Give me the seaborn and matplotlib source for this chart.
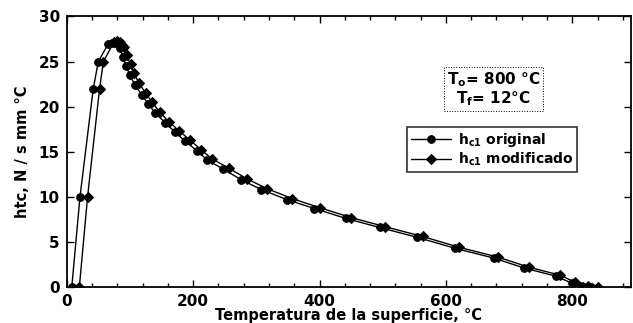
import numpy as np
import pandas as pd
import matplotlib
matplotlib.use("Agg")
import matplotlib.pyplot as plt
from matplotlib.ticker import MultipleLocator
import seaborn as sns

# Data
temp_original = [8, 21, 42, 50, 66, 72, 78, 84, 89, 94, 100, 108, 119, 129, 140, 156,
                 171, 187, 206, 222, 247, 276, 308, 348, 392, 442, 495, 555, 614, 676,
                 724, 774, 800, 815, 830]
htc_original = [0, 10, 22, 25, 27, 27.1, 27.1, 26.5, 25.5, 24.5, 23.5, 22.4, 21.3, 20.3,
                19.3, 18.2, 17.2, 16.2, 15.1, 14.1, 13.1, 11.9, 10.8, 9.7, 8.7, 7.6,
                6.6, 5.5, 4.3, 3.2, 2.1, 1.2, 0.4, 0.1, 0]
temp_modificado = [20, 33, 52, 58, 75, 80, 85, 90, 95, 101, 107, 114, 125, 135, 147, 162,
                   178, 195, 213, 230, 256, 285, 317, 357, 400, 450, 503, 563, 621, 683,
                   731, 781, 805, 825, 840]
htc_modificado = [0, 10, 22, 25, 27.2, 27.3, 27.2, 26.6, 25.7, 24.7, 23.7, 22.6, 21.5,
                  20.5, 19.4, 18.3, 17.3, 16.3, 15.2, 14.2, 13.2, 12.0, 10.9, 9.8, 8.8,
                  7.7, 6.7, 5.6, 4.4, 3.3, 2.2, 1.3, 0.5, 0.1, 0]
series_labels = [r"h$_{c1}$ original", r"h$_{c1}$ modificado"]

df = pd.concat([
    pd.DataFrame({"T": temp_original, "htc": htc_original, "serie": series_labels[0]}),
    pd.DataFrame({"T": temp_modificado, "htc": htc_modificado, "serie": series_labels[1]}),
], ignore_index=True)

sns.set_style("ticks")
plt.rcParams["font.family"] = ["DejaVu Sans"]
plt.rcParams["font.weight"] = "bold"
plt.rcParams["mathtext.fontset"] = "dejavusans"
plt.rcParams["mathtext.default"] = "bf"
for k in ["text.color", "axes.labelcolor", "xtick.color", "ytick.color",
          "xtick.labelcolor", "ytick.labelcolor"]:
    plt.rcParams[k] = "black"

fig = plt.figure(figsize=(6.33, 3.23), dpi=100)
ax = fig.add_axes([0.1054, 0.1115, 0.8916, 0.8375])

sns.lineplot(data=df, x="T", y="htc", hue="serie", style="serie",
             markers=["o", "D"], dashes=False, palette=["black", "black"],
             estimator=None, sort=False, ax=ax, linewidth=1.0,
             markersize=5.5, markeredgecolor="black")

ax.set_xlim(0, 893)
ax.set_ylim(0, 30)
ax.xaxis.set_major_locator(MultipleLocator(200))
ax.xaxis.set_minor_locator(MultipleLocator(40))
ax.yaxis.set_major_locator(MultipleLocator(5))
ax.tick_params(axis="both", which="both", direction="in", top=True, right=True,
               labelsize=11, width=1.0, colors="black")
ax.tick_params(which="major", length=5, pad=5)
ax.tick_params(which="minor", length=3)
for lab in ax.get_xticklabels() + ax.get_yticklabels():
    lab.set_fontweight("bold")
for s in ax.spines.values():
    s.set_linewidth(1.3)
    s.set_color("black")

ax.set_xlabel("Temperatura de la superficie, °C", fontsize=10.5, fontweight="bold",
              labelpad=-1, color="black")
ax.set_ylabel("htc, N / s mm °C", fontsize=10.5, fontweight="bold", labelpad=6,
              color="black")

leg = ax.legend(loc="upper left", bbox_to_anchor=(0.603, 0.59), frameon=True,
                fancybox=False, edgecolor="black", fontsize=10, handlelength=2.9,
                borderpad=0.25, labelspacing=0.15, handletextpad=0.5, borderaxespad=0)
leg.get_frame().set_linewidth(1.2)
for t in leg.get_texts():
    t.set_fontweight("bold")
    t.set_color("black")

ax.text(0.756, 0.732, "T$_o$= 800 °C\nT$_f$= 12°C", transform=ax.transAxes,
        ha="center", va="center", fontsize=11, fontweight="bold", linespacing=1.0,
        color="black",
        bbox=dict(boxstyle="square,pad=0.2", facecolor="white", edgecolor="black",
                  linewidth=0.7, linestyle=":"))

fig.savefig("out.png", dpi=100)
